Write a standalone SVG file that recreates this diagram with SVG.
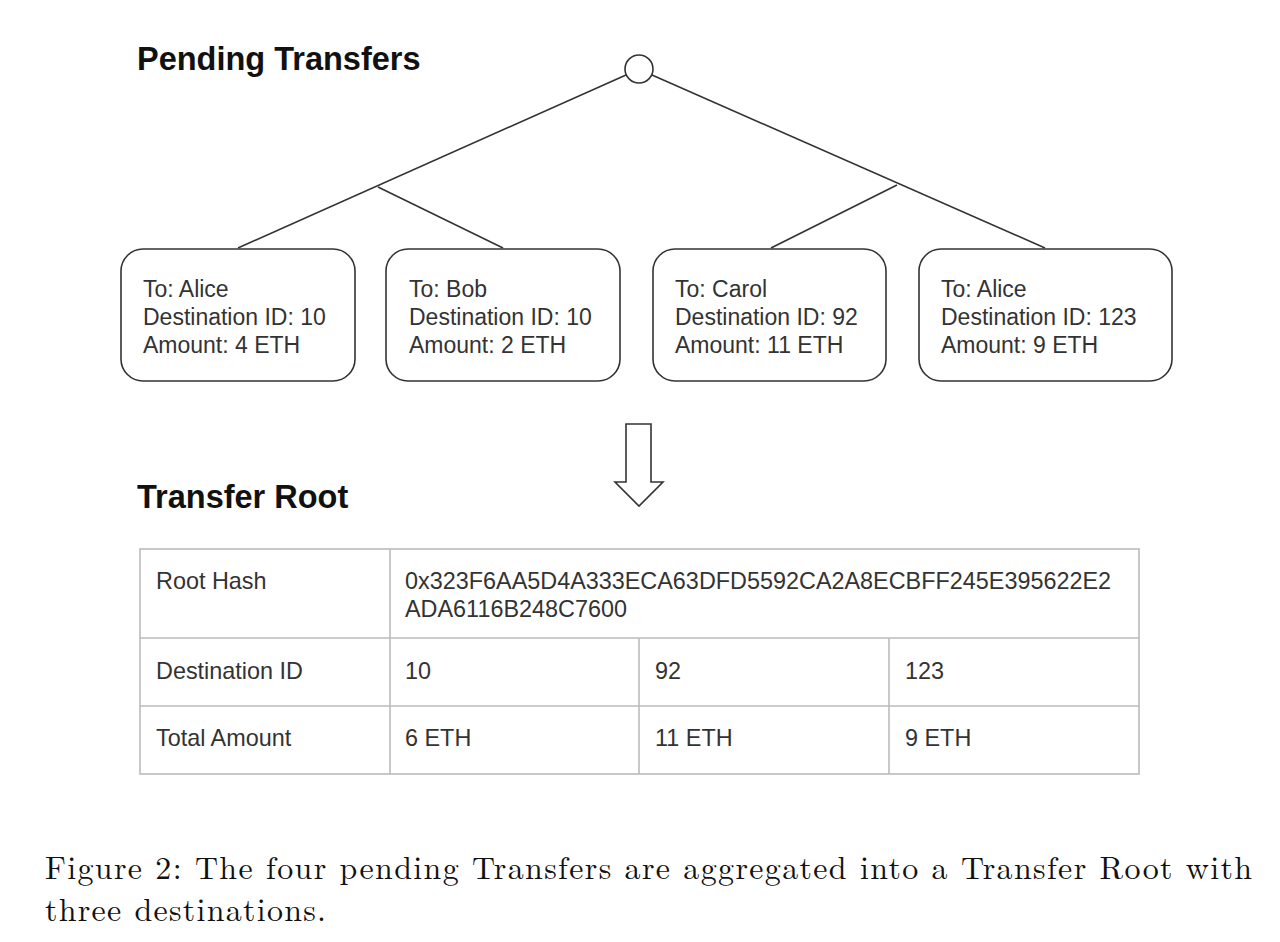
<svg xmlns="http://www.w3.org/2000/svg" width="1280" height="942" viewBox="0 0 1280 942">
<style>
.title{font-family:"Liberation Sans",Arial,sans-serif;font-weight:bold;font-size:32.5px;fill:#111}
.t{font-family:"Liberation Sans",Arial,sans-serif;font-size:23px;fill:#333}
.tt{font-family:"Liberation Sans",Arial,sans-serif;font-size:23.4px;fill:#333}
.box{fill:#fff;stroke:#333;stroke-width:1.6}
.edge{stroke:#333;stroke-width:1.6;fill:none}
.grid{stroke:#bbb;stroke-width:1.6;fill:none}
.cap{font-family:"Latin Modern Roman","Liberation Serif","Times New Roman",serif;font-size:32px;fill:#111}
</style>
<rect width="1280" height="942" fill="#fff"/>
<text class="title" x="137" y="70">Pending Transfers</text>
<g id="connectors">
<line class="edge" x1="626" y1="75" x2="238" y2="248"/>
<line class="edge" x1="378" y1="187" x2="503" y2="248"/>
<line class="edge" x1="652" y1="75" x2="1045" y2="248"/>
<line class="edge" x1="897" y1="185" x2="771" y2="248"/>
</g>
<g id="root"><circle cx="639" cy="69" r="14" class="box"/></g>
<g id="t1"><rect class="box" x="121" y="249" width="234" height="132" rx="22"/>
<text class="t" x="143" y="297">To: Alice</text><text class="t" x="143" y="325">Destination ID: 10</text><text class="t" x="143" y="353">Amount: 4 ETH</text></g>
<g id="t2"><rect class="box" x="386" y="249" width="234" height="132" rx="22"/>
<text class="t" x="409" y="297">To: Bob</text><text class="t" x="409" y="325">Destination ID: 10</text><text class="t" x="409" y="353">Amount: 2 ETH</text></g>
<g id="t3"><rect class="box" x="653" y="249" width="233" height="132" rx="22"/>
<text class="t" x="675" y="297">To: Carol</text><text class="t" x="675" y="325">Destination ID: 92</text><text class="t" x="675" y="353">Amount: 11 ETH</text></g>
<g id="t4"><rect class="box" x="919" y="249" width="253" height="132" rx="22"/>
<text class="t" x="941" y="297">To: Alice</text><text class="t" x="941" y="325">Destination ID: 123</text><text class="t" x="941" y="353">Amount: 9 ETH</text></g>
<g id="arrow"><polygon class="box" points="626,424 651,424 651,482 663,482 639,506 615,482 626,482"/></g>
<text class="title" x="137" y="508">Transfer Root</text>
<g id="table">
<rect class="grid" x="140" y="549" width="999" height="225"/>
<line class="grid" x1="140" y1="638" x2="1139" y2="638"/>
<line class="grid" x1="140" y1="706" x2="1139" y2="706"/>
<line class="grid" x1="390" y1="549" x2="390" y2="774"/>
<line class="grid" x1="639" y1="638" x2="639" y2="774"/>
<line class="grid" x1="889" y1="638" x2="889" y2="774"/>
<text class="tt" x="156" y="589">Root Hash</text>
<text class="tt" x="405" y="589">0x323F6AA5D4A333ECA63DFD5592CA2A8ECBFF245E395622E2</text>
<text class="tt" x="405" y="617">ADA6116B248C7600</text>
<text class="tt" x="156" y="679">Destination ID</text>
<text class="tt" x="405" y="679">10</text>
<text class="tt" x="655" y="679">92</text>
<text class="tt" x="905" y="679">123</text>
<text class="tt" x="156" y="746">Total Amount</text>
<text class="tt" x="405" y="746">6 ETH</text>
<text class="tt" x="655" y="746">11 ETH</text>
<text class="tt" x="905" y="746">9 ETH</text>
</g>
<text class="cap"><tspan x="45" y="879" textLength="1207" lengthAdjust="spacing">Figure 2:  The four pending Transfers are aggregated into a Transfer Root with</tspan><tspan x="45" y="921" textLength="281" lengthAdjust="spacing">three destinations.</tspan></text>
</svg>
